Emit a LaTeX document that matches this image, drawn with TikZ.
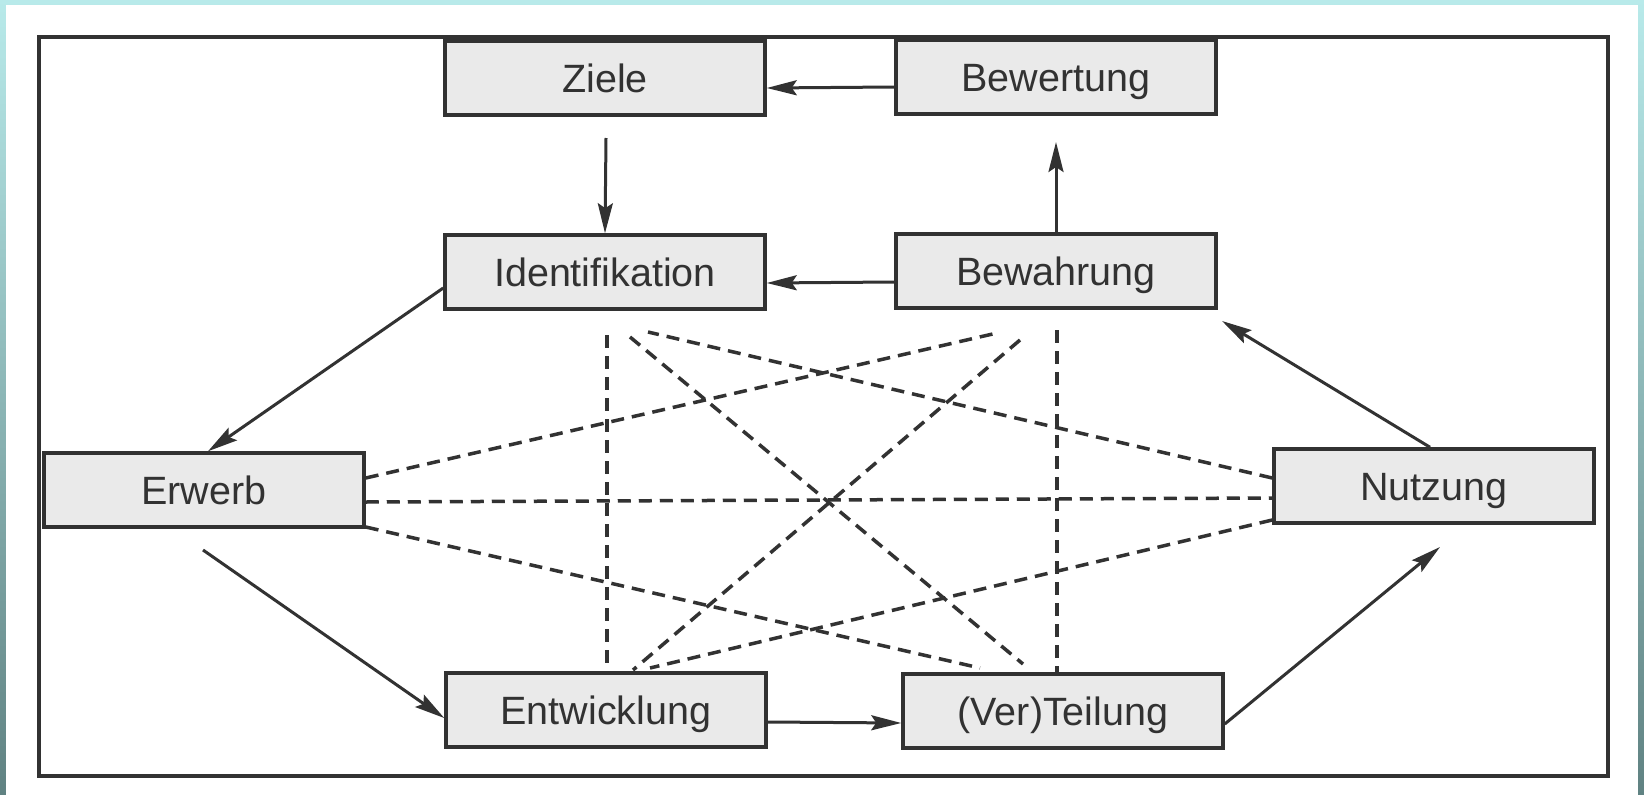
\documentclass[tikz,border=0pt]{standalone}
\usepackage{fontspec}
\setmainfont{Liberation Sans}
\usetikzlibrary{arrows.meta}
\definecolor{ink}{RGB}{50,50,50}
\definecolor{boxfill}{RGB}{234,234,234}
\definecolor{edgetop}{RGB}{184,234,234}
\definecolor{edgebot}{RGB}{96,130,130}
\begin{document}
\begin{tikzpicture}[x=1pt,y=-1pt,
  box/.style={draw=ink, line width=3.5pt, fill=boxfill, minimum width=320pt, minimum height=74pt,
    inner sep=0pt, text height=28pt, text depth=0pt, font=\fontsize{39.5}{46}\selectfont, text=ink},
  arr/.style={draw=ink, line width=3pt, -{Stealth[length=30pt,width=15pt,inset=5pt]}},
  dsh/.style={draw=ink, line width=3.5pt, dash pattern=on 13pt off 8pt}]
% background and margins
\fill[top color=edgetop, bottom color=edgebot] (0,0) rectangle (1644,795);
\fill[white] (6,5) rectangle (1638,795);
\useasboundingbox (0,0) rectangle (1644,795);
% outer frame
\draw[ink, line width=3.5pt] (39,37) rectangle (1608,776);
% boxes
\node[box] (ziele) at (605,78) {Ziele};
\node[box] (bewertung) at (1056,77) {Bewertung};
\node[box] (ident) at (605,272) {Identifikation};
\node[box] (bewahrung) at (1056,271) {Bewahrung};
\node[box] (erwerb) at (204,490) {Erwerb};
\node[box] (nutzung) at (1434,486) {Nutzung};
\node[box] (entw) at (606,710) {Entwicklung};
\node[box] (teil) at (1063,711) {(Ver)Teilung};
% free ends
\coordinate (zA) at (606,138);
\coordinate (bA) at (1056,142);
\coordinate (eA) at (203,550);
\coordinate (nA) at (1440,547);
\coordinate (wA) at (1222,321);
% solid arrows
\draw[arr] ([yshift=-10pt]bewertung.west) -- ([yshift=-10pt]ziele.east);
\draw[arr] (zA) -- (ident.north);
\draw[arr] (bewahrung.north) -- (bA);
\draw[arr] ([yshift=-11pt]bewahrung.west) -- ([yshift=-11pt]ident.east);
\draw[arr] ([yshift=-16pt]ident.west) -- ([xshift=4pt]erwerb.north);
\draw[arr] (eA) -- ([yshift=-8pt]entw.west);
\draw[arr] ([yshift=-12pt]entw.east) -- ([yshift=-12pt]teil.west);
\draw[arr] ([yshift=-13pt]teil.east) -- (nA);
\draw[arr] ([xshift=-4pt]nutzung.north) -- (wA);
% dashed connectors
\coordinate (d1) at (997,333);
\coordinate (d2) at (980,668);
\coordinate (d3) at (648,332);
\coordinate (d4) at (650,668);
\coordinate (d5) at (630,337);
\coordinate (d6) at (1023,664);
\coordinate (d7) at (1020,340);
\coordinate (d8) at (633,670);
\coordinate (d9) at (607,335);
\coordinate (d10) at (1057,330);
\draw[dsh] ([yshift=12pt]erwerb.east) -- (d1);
\draw[dsh] ([yshift=-12pt]erwerb.east) -- ([yshift=-12pt]nutzung.west);
\draw[dsh] ([yshift=-37pt]erwerb.east) -- (d2);
\draw[dsh] ([yshift=8pt]nutzung.west) -- (d3);
\draw[dsh] ([yshift=-34pt]nutzung.west) -- (d4);
\draw[dsh] (d5) -- (d6);
\draw[dsh] (d7) -- (d8);
\draw[dsh] (d9) -- ([xshift=1pt]entw.north);
\draw[dsh] (d10) -- ([xshift=-6pt]teil.north);
\end{tikzpicture}
\end{document}
